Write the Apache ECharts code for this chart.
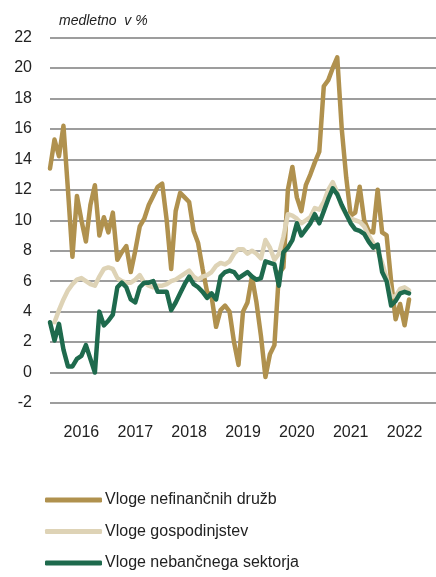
<!DOCTYPE html>
<html lang="sl">
<head>
    <meta charset="UTF-8">
    <script src="https://cdn.jsdelivr.net/npm/echarts@6/dist/echarts.min.js"></script>
    <style>
        body { margin: 0; background: #fff; }
    </style>
</head>
<body>
    <div id="main" style="width: 436px; height: 577px;"></div>
    <script>
        // mesečni podatki, jun 2015 - feb 2022 (+ prazni meseci do konca osi)
        var months = [];
        for (var y = 2015; y <= 2022; y++) {
            for (var m = 1; m <= 12; m++) {
                if (y === 2015 && m < 6) continue;
                if (y === 2022 && m > 8) continue;
                months.push(y + '-' + (m < 10 ? '0' + m : m));
            }
        }

        var yearLabels = ['2016', '2017', '2018', '2019', '2020', '2021', '2022'];

        var nefinancneDruzbe = [
            13.4, 15.3, 14.2, 16.2, 12.0, 7.6, 11.6, 10.0, 8.6, 11.0,
            12.3, 9.0, 10.2, 9.2, 10.5, 7.4, 7.9, 8.3, 6.6, 8.0,
            9.6, 10.1, 11.0, 11.6, 12.2, 12.4, 10.0, 6.8, 10.6, 11.8,
            11.5, 11.2, 9.3, 8.5, 6.8, 5.3, 5.0, 3.0, 4.1, 4.4,
            4.0, 2.0, 0.5, 4.0, 4.6, 6.3, 4.6, 2.4, -0.3, 1.2,
            1.8, 6.5, 6.9, 12.0, 13.5, 11.5, 10.6, 12.3, 13.0, 13.8,
            14.5, 18.8, 19.2, 20.0, 20.7, 16.0, 12.8, 10.3, 10.5, 12.2,
            10.0, 9.3, 9.2, 12.0, 9.2, 9.0, 6.0, 3.5, 4.5, 3.1,
            4.8
        ];

        var gospodinjstva = [
            null, 3.3, 4.1, 4.8, 5.4, 5.8, 6.1, 6.2, 6.0, 5.8,
            5.7, 6.3, 6.8, 6.9, 6.8, 6.2, 6.0, 5.9, 5.9, 6.1,
            6.4, 5.9, 5.7, 5.6, 5.7, 5.7, 5.8, 6.0, 6.1, 6.3,
            6.5, 6.7, 6.3, 6.1, 6.3, 6.4, 6.6, 7.0, 7.2, 7.1,
            7.3, 7.8, 8.1, 8.1, 7.8, 8.0, 7.8, 7.5, 8.7, 8.2,
            7.4, 7.8, 8.9, 10.4, 10.3, 10.1, 9.8, 10.0, 10.2, 10.8,
            10.7, 11.2, 12.0, 12.5, 11.8, 10.9, 10.4, 10.1, 10.0, 9.9,
            9.6, 9.0, 8.5, 8.0, 7.2, 6.2, 5.0, 5.0, 5.5, 5.6,
            5.4
        ];

        var nebancniSektor = [
            3.3, 2.1, 3.2, 1.5, 0.4, 0.4, 0.9, 1.1, 1.8, 0.9,
            0.0, 4.0, 3.1, 3.4, 3.8, 5.6, 5.9, 5.6, 4.8, 4.6,
            5.6, 5.9, 5.9, 6.0, 5.3, 5.3, 5.3, 4.1, 4.6, 5.2,
            5.8, 6.3, 5.8, 5.6, 5.3, 4.9, 5.2, 4.8, 6.3, 6.6,
            6.7, 6.6, 6.2, 6.4, 6.6, 6.3, 6.1, 6.2, 7.3, 7.2,
            7.1, 5.7, 7.9, 8.2, 8.7, 9.8, 9.0, 9.4, 9.8, 10.4,
            9.8, 10.6, 11.4, 12.1, 11.7, 11.0, 10.4, 9.8, 9.4, 9.3,
            9.1, 8.6, 8.2, 8.4, 6.6, 6.0, 4.4, 4.7, 5.2, 5.3,
            5.2
        ];

        var seriesNames = ['Vloge nefinančnih družb', 'Vloge gospodinjstev', 'Vloge nebančnega sektorja'];
        var seriesColors = ['#b0914e', '#ded3b6', '#1e6a4d'];
        var seriesData = [nefinancneDruzbe, gospodinjstva, nebancniSektor];

        var font = 'Liberation Sans, Arial, sans-serif';

        var chart = echarts.init(document.getElementById('main'));

        chart.setOption({
            animation: false,
            title: {
                text: 'medletno  v %',
                left: 54,
                top: 9,
                textStyle: {
                    fontFamily: font,
                    fontSize: 14,
                    fontStyle: 'italic',
                    fontWeight: 'normal',
                    color: '#222'
                }
            },
            legend: {
                orient: 'vertical',
                left: 45,
                top: 491,
                padding: 0,
                height: 86,
                icon: 'roundRect',
                itemWidth: 57,
                itemHeight: 5,
                itemGap: 13.5,
                textStyle: {
                    fontFamily: font,
                    fontSize: 16,
                    lineHeight: 18,
                    color: '#222',
                    padding: [0, 0, 0, -2]
                },
                data: seriesNames
            },
            grid: {
                left: 50,
                right: 0,
                top: 37.5,
                bottom: 174,
                containLabel: false
            },
            xAxis: {
                type: 'category',
                data: months,
                boundaryGap: false,
                axisLine: { show: false },
                axisTick: { show: false },
                splitLine: { show: false },
                axisLabel: {
                    interval: function (index) {
                        return index >= 7 && (index - 7) % 12 === 0;
                    },
                    formatter: function (value) {
                        var year = value.slice(0, 4);
                        return yearLabels.indexOf(year) >= 0 ? year : '';
                    },
                    margin: 22,
                    fontFamily: font,
                    fontSize: 16,
                    color: '#222'
                }
            },
            yAxis: {
                type: 'value',
                min: -2,
                max: 22,
                interval: 2,
                axisLine: { show: false },
                axisTick: { show: false },
                axisLabel: {
                    margin: 18,
                    fontFamily: font,
                    fontSize: 16,
                    color: '#222'
                },
                splitLine: {
                    lineStyle: { color: '#9d9d9d', width: 2 }
                }
            },
            series: seriesNames.map(function (name, i) {
                return {
                    name: name,
                    type: 'line',
                    data: seriesData[i],
                    showSymbol: false,
                    symbol: 'none',
                    connectNulls: false,
                    lineStyle: { width: 4.5, color: seriesColors[i], cap: 'round', join: 'round' },
                    itemStyle: { color: seriesColors[i] }
                };
            })
        });
    </script>
</body>
</html>
